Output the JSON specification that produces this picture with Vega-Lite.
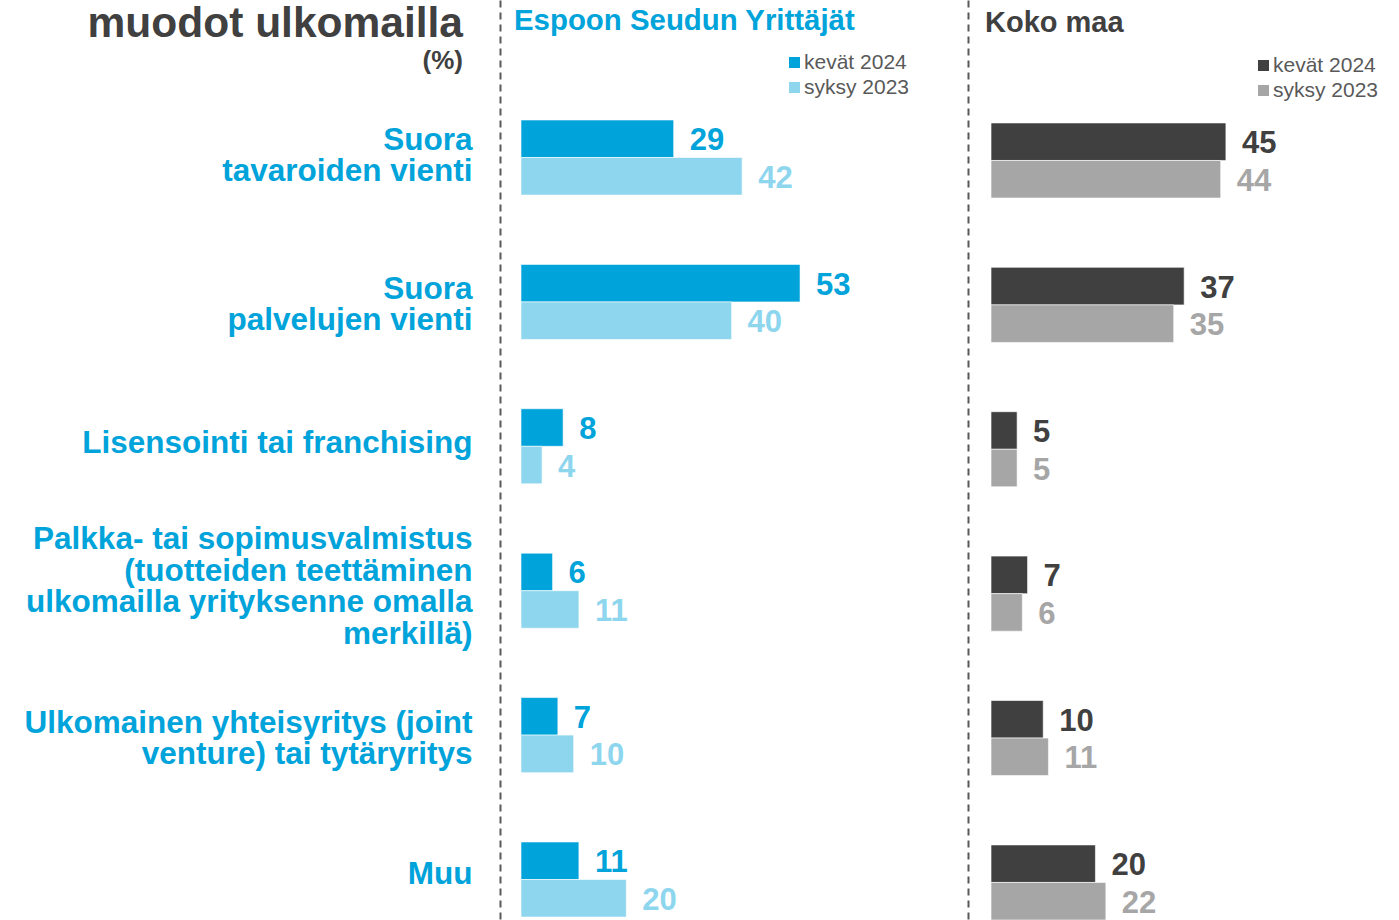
{
  "$schema": "https://vega.github.io/schema/vega-lite/v6.json",
  "padding": 0,
  "background": "white",
  "config": {"font": "Liberation Sans", "view": {"stroke": null}},
  "datasets": {
    "espoo": [
      {"category": "Suora|tavaroiden vienti", "period": "kevät 2024", "value": 29},
      {"category": "Suora|tavaroiden vienti", "period": "syksy 2023", "value": 42},
      {"category": "Suora|palvelujen vienti", "period": "kevät 2024", "value": 53},
      {"category": "Suora|palvelujen vienti", "period": "syksy 2023", "value": 40},
      {"category": "Lisensointi tai franchising", "period": "kevät 2024", "value": 8},
      {"category": "Lisensointi tai franchising", "period": "syksy 2023", "value": 4},
      {"category": "Palkka- tai sopimusvalmistus|(tuotteiden teettäminen|ulkomailla yrityksenne omalla|merkillä)", "period": "kevät 2024", "value": 6},
      {"category": "Palkka- tai sopimusvalmistus|(tuotteiden teettäminen|ulkomailla yrityksenne omalla|merkillä)", "period": "syksy 2023", "value": 11},
      {"category": "Ulkomainen yhteisyritys (joint|venture) tai tytäryritys", "period": "kevät 2024", "value": 7},
      {"category": "Ulkomainen yhteisyritys (joint|venture) tai tytäryritys", "period": "syksy 2023", "value": 10},
      {"category": "Muu", "period": "kevät 2024", "value": 11},
      {"category": "Muu", "period": "syksy 2023", "value": 20}
    ],
    "koko": [
      {"category": "Suora|tavaroiden vienti", "period": "kevät 2024", "value": 45},
      {"category": "Suora|tavaroiden vienti", "period": "syksy 2023", "value": 44},
      {"category": "Suora|palvelujen vienti", "period": "kevät 2024", "value": 37},
      {"category": "Suora|palvelujen vienti", "period": "syksy 2023", "value": 35},
      {"category": "Lisensointi tai franchising", "period": "kevät 2024", "value": 5},
      {"category": "Lisensointi tai franchising", "period": "syksy 2023", "value": 5},
      {"category": "Palkka- tai sopimusvalmistus|(tuotteiden teettäminen|ulkomailla yrityksenne omalla|merkillä)", "period": "kevät 2024", "value": 7},
      {"category": "Palkka- tai sopimusvalmistus|(tuotteiden teettäminen|ulkomailla yrityksenne omalla|merkillä)", "period": "syksy 2023", "value": 6},
      {"category": "Ulkomainen yhteisyritys (joint|venture) tai tytäryritys", "period": "kevät 2024", "value": 10},
      {"category": "Ulkomainen yhteisyritys (joint|venture) tai tytäryritys", "period": "syksy 2023", "value": 11},
      {"category": "Muu", "period": "kevät 2024", "value": 20},
      {"category": "Muu", "period": "syksy 2023", "value": 22}
    ]
  },
  "spacing": 0,
  "bounds": "flush",
  "resolve": {
    "scale": {"color": "independent", "x": "independent", "y": "independent"},
    "legend": {"color": "independent"}
  },
  "hconcat": [
    {
      "width": 500,
      "height": 920,
      "data": {"values": []},
      "mark": "point",
      "title": {
        "text": "muodot ulkomailla",
        "subtitle": "(%)",
        "anchor": "end",
        "frame": "group",
        "orient": "top",
        "offset": -74,
        "dx": -37,
        "fontSize": 42.5,
        "fontWeight": "bold",
        "color": "#404040",
        "subtitleFontSize": 26,
        "subtitleFontWeight": "bold",
        "subtitleColor": "#404040",
        "subtitlePadding": 3
      }
    },
    {
      "width": 468,
      "height": 920,
      "data": {"name": "espoo"},
      "title": {
        "text": "Espoon Seudun Yrittäjät",
        "anchor": "start",
        "frame": "group",
        "orient": "top",
        "offset": -36,
        "dx": 14,
        "fontSize": 29.4,
        "fontWeight": "bold",
        "color": "#00A3DA"
      },
      "encoding": {
        "y": {
          "field": "category", "type": "nominal", "sort": null,
          "scale": {"paddingInner": 0.48, "paddingOuter": 0.4257, "align": 0.976},
          "axis": {
            "title": null, "ticks": false, "labelExpr": "split(datum.label, '|')",
            "labelFontSize": 31.5, "labelFontWeight": "bold", "labelColor": "#00A3DA",
            "labelPadding": 28, "labelLimit": 0, "labelLineHeight": 31.5,
            "labelAlign": "right", "labelBaseline": "middle",
            "labelOffset": {
              "condition": [
                {"test": "datum.label == 'Suora|tavaroiden vienti'", "value": -16.75},
                {"test": "datum.label == 'Suora|palvelujen vienti'", "value": -12.25},
                {"test": "datum.label == 'Lisensointi tai franchising'", "value": -2},
                {"test": "indexof(datum.label, 'Palkka') == 0", "value": -50.25},
                {"test": "indexof(datum.label, 'Ulkomainen') == 0", "value": -11.25}
              ],
              "value": -4.5
            },
            "domainDash": [7, 5], "domainColor": "#595959", "domainWidth": 2
          }
        },
        "yOffset": {"field": "period", "type": "nominal", "sort": ["kevät 2024", "syksy 2023"], "scale": {"paddingInner": 0, "paddingOuter": 0}},
        "x": {"field": "value", "type": "quantitative", "scale": {"domain": [-3.99, 84.9], "nice": false, "zero": false}, "axis": null},
        "color": {
          "field": "period", "type": "nominal",
          "scale": {"domain": ["kevät 2024", "syksy 2023"], "range": ["#00A3DA", "#8DD6EE"]},
          "legend": {
            "title": null, "orient": "none", "legendX": 284, "legendY": 52,
            "symbolType": "square", "symbolSize": 121, "symbolStrokeWidth": 0,
            "labelFontSize": 21, "labelColor": "#595959", "labelOffset": -1, "rowPadding": 3, "padding": 0
          }
        }
      },
      "layer": [
        {"mark": {"type": "bar", "stroke": "white", "strokeWidth": 0.6}, "encoding": {"x2": {"datum": 0}}},
        {"mark": {"type": "text", "align": "left", "baseline": "middle", "dx": 16, "dy": 2.5, "fontSize": 31, "fontWeight": "bold"},
         "encoding": {"text": {"field": "value", "type": "quantitative"}}}
      ]
    },
    {
      "width": 431,
      "height": 920,
      "data": {"name": "koko"},
      "title": {
        "text": "Koko maa",
        "anchor": "start",
        "frame": "group",
        "orient": "top",
        "offset": -38,
        "dx": 17,
        "fontSize": 29,
        "fontWeight": "bold",
        "color": "#404040"
      },
      "encoding": {
        "y": {
          "field": "category", "type": "nominal", "sort": null,
          "scale": {"paddingInner": 0.48, "paddingOuter": 0.4257, "align": 1},
          "axis": {
            "title": null, "ticks": false, "labels": false,
            "domainDash": [7, 5], "domainColor": "#595959", "domainWidth": 2
          }
        },
        "yOffset": {"field": "period", "type": "nominal", "sort": ["kevät 2024", "syksy 2023"], "scale": {"paddingInner": 0, "paddingOuter": 0}},
        "x": {"field": "value", "type": "quantitative", "scale": {"domain": [-4.41, 78.16], "nice": false, "zero": false}, "axis": null},
        "color": {
          "field": "period", "type": "nominal",
          "scale": {"domain": ["kevät 2024", "syksy 2023"], "range": ["#404040", "#A6A6A6"]},
          "legend": {
            "title": null, "orient": "none", "legendX": 285, "legendY": 55,
            "symbolType": "square", "symbolSize": 121, "symbolStrokeWidth": 0,
            "labelFontSize": 21, "labelColor": "#595959", "labelOffset": -1, "rowPadding": 3, "padding": 0
          }
        }
      },
      "layer": [
        {"mark": {"type": "bar", "stroke": "white", "strokeWidth": 0.6}, "encoding": {"x2": {"datum": 0}}},
        {"mark": {"type": "text", "align": "left", "baseline": "middle", "dx": 16, "dy": 2.5, "fontSize": 31, "fontWeight": "bold"},
         "encoding": {"text": {"field": "value", "type": "quantitative"}}}
      ]
    }
  ]
}
